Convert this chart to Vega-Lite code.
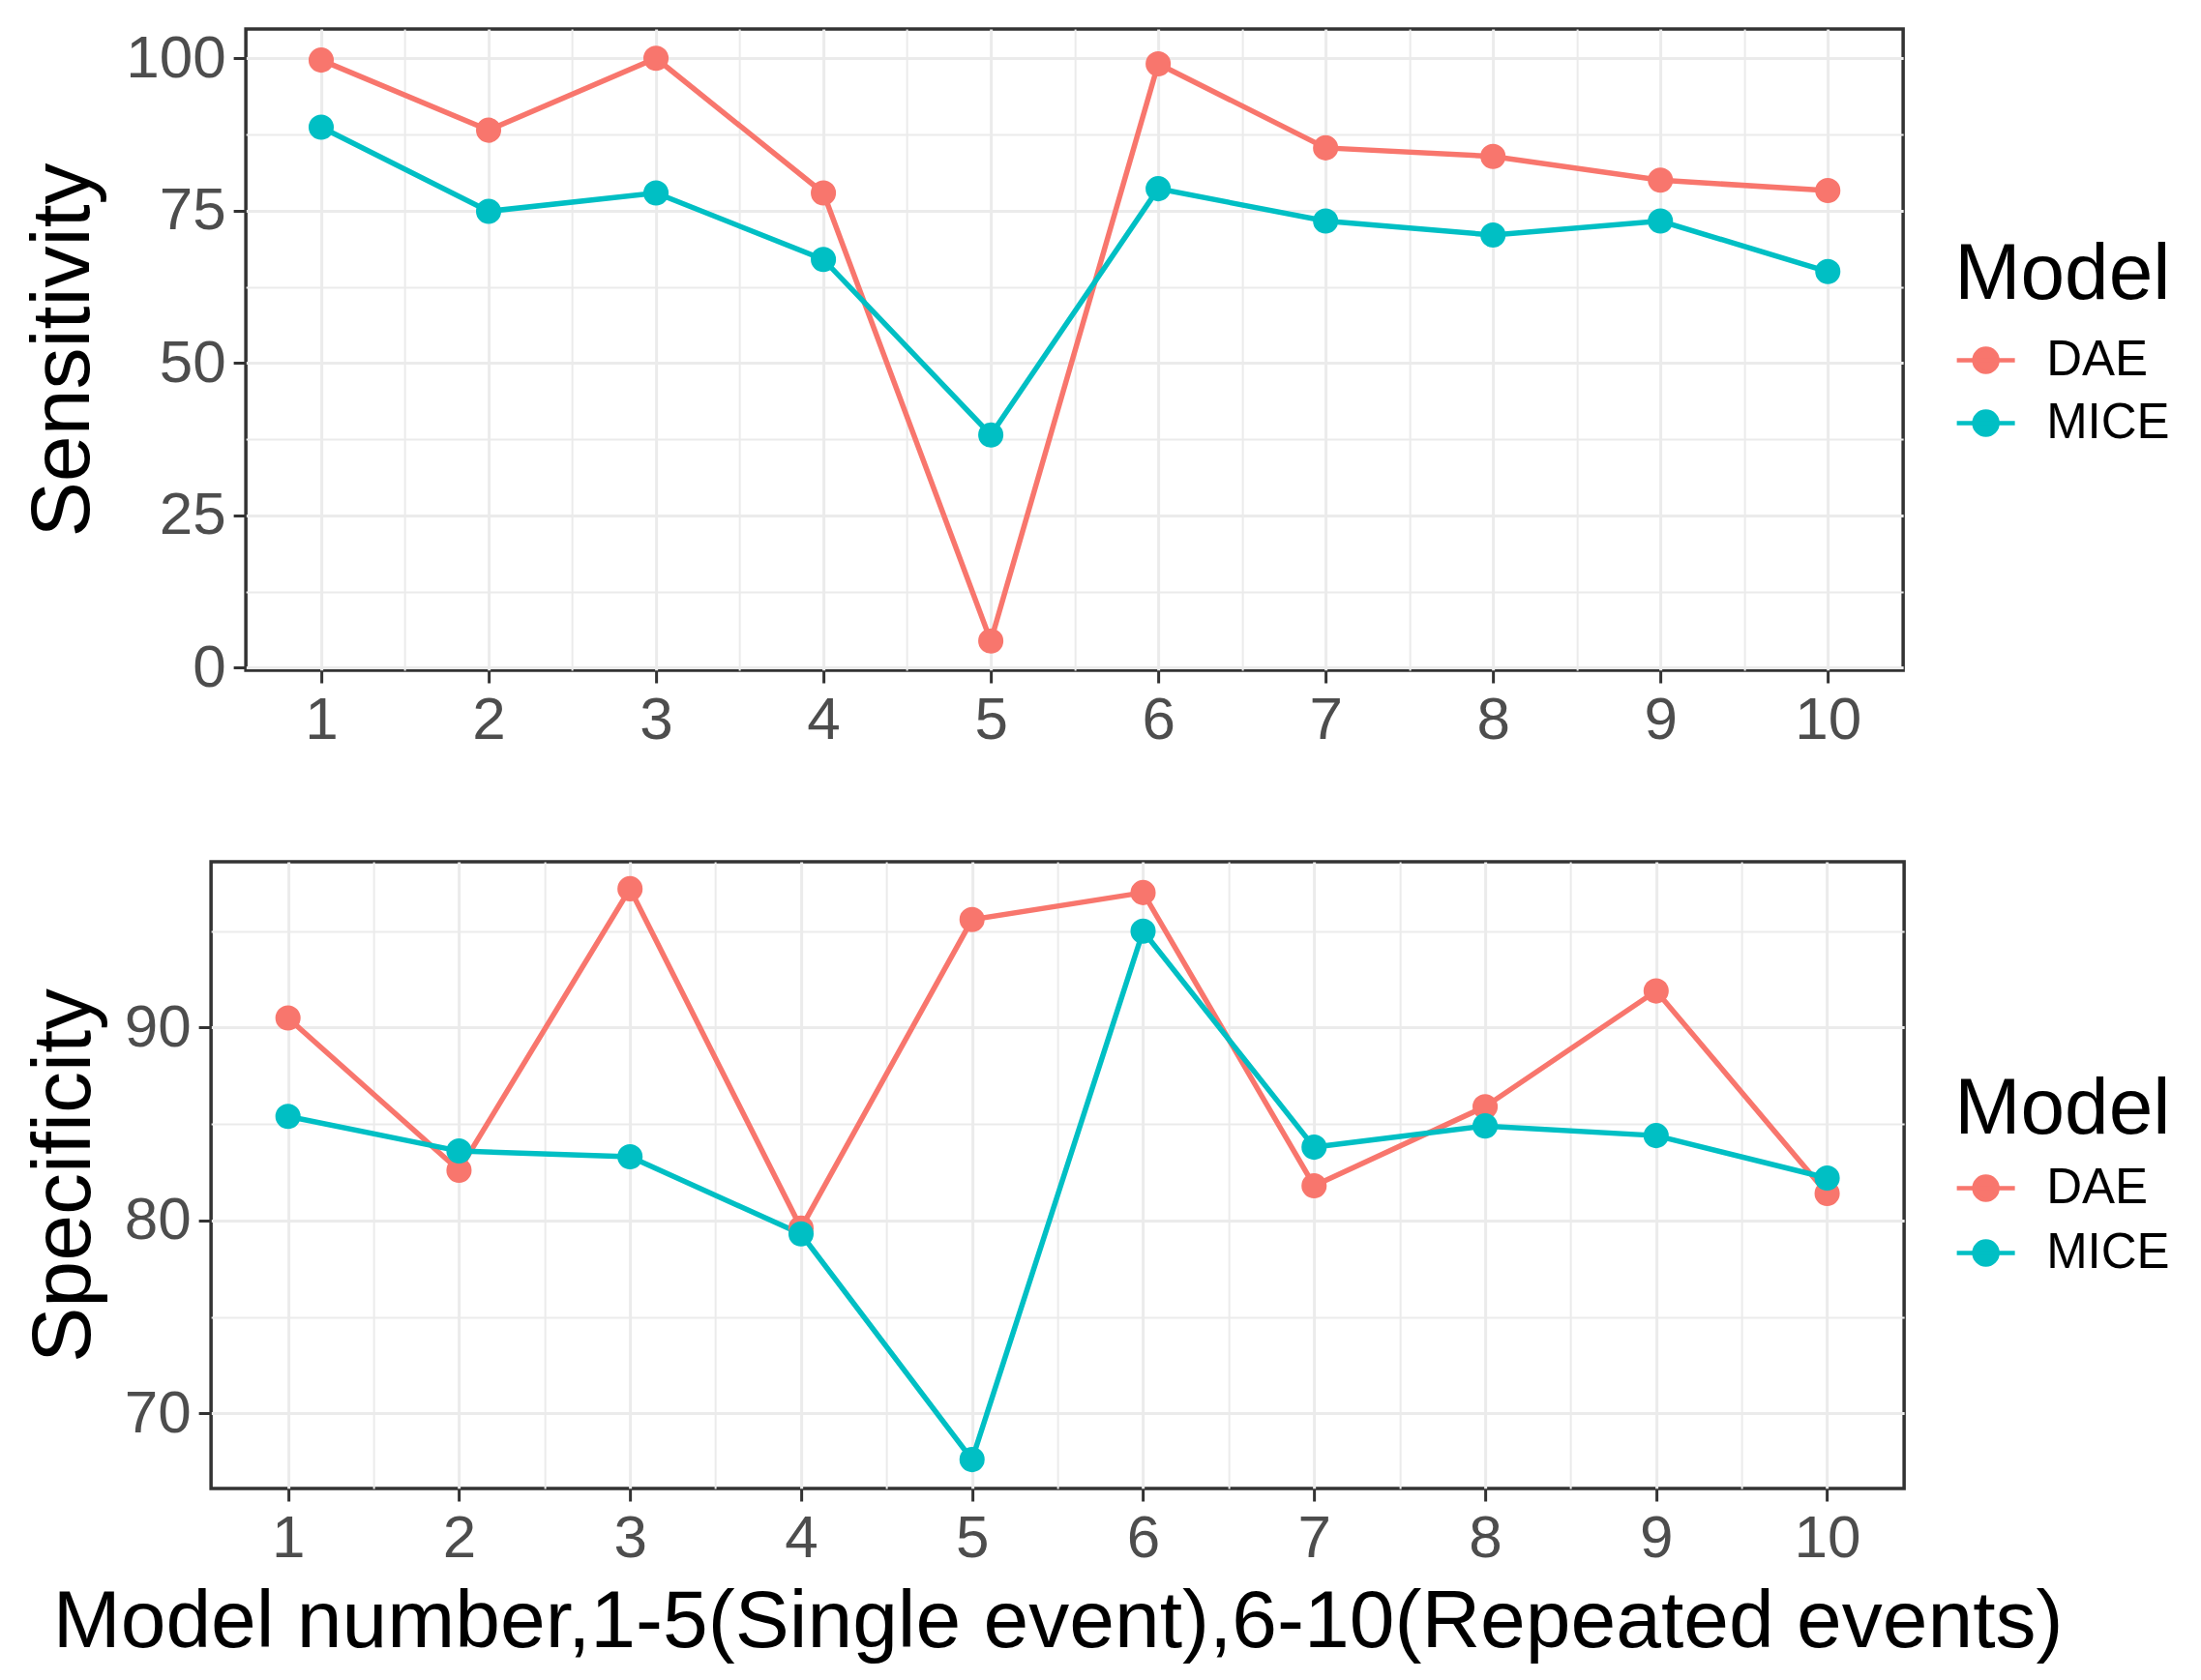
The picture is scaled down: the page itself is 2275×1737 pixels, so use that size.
{
  "$schema": "https://vega.github.io/schema/vega-lite/v6.json",
  "padding": {"left": 20, "top": 27, "right": 0, "bottom": 0},
  "background": "white",
  "datasets": {
    "sens": [
      {"num": 1, "Model": "DAE", "value": 99.7},
      {"num": 2, "Model": "DAE", "value": 88.2},
      {"num": 3, "Model": "DAE", "value": 100},
      {"num": 4, "Model": "DAE", "value": 77.9},
      {"num": 5, "Model": "DAE", "value": 4.4},
      {"num": 6, "Model": "DAE", "value": 99.1},
      {"num": 7, "Model": "DAE", "value": 85.3},
      {"num": 8, "Model": "DAE", "value": 83.9},
      {"num": 9, "Model": "DAE", "value": 80.0},
      {"num": 10, "Model": "DAE", "value": 78.3},
      {"num": 1, "Model": "MICE", "value": 88.7},
      {"num": 2, "Model": "MICE", "value": 74.9},
      {"num": 3, "Model": "MICE", "value": 77.9},
      {"num": 4, "Model": "MICE", "value": 67.0},
      {"num": 5, "Model": "MICE", "value": 38.2},
      {"num": 6, "Model": "MICE", "value": 78.6},
      {"num": 7, "Model": "MICE", "value": 73.3},
      {"num": 8, "Model": "MICE", "value": 71.0},
      {"num": 9, "Model": "MICE", "value": 73.3},
      {"num": 10, "Model": "MICE", "value": 65.0}
    ],
    "spec": [
      {"num": 1, "Model": "DAE", "value": 90.5},
      {"num": 2, "Model": "DAE", "value": 82.6},
      {"num": 3, "Model": "DAE", "value": 97.2},
      {"num": 4, "Model": "DAE", "value": 79.6},
      {"num": 5, "Model": "DAE", "value": 95.6},
      {"num": 6, "Model": "DAE", "value": 97.0},
      {"num": 7, "Model": "DAE", "value": 81.8},
      {"num": 8, "Model": "DAE", "value": 85.9},
      {"num": 9, "Model": "DAE", "value": 91.9},
      {"num": 10, "Model": "DAE", "value": 81.4},
      {"num": 1, "Model": "MICE", "value": 85.4},
      {"num": 2, "Model": "MICE", "value": 83.6},
      {"num": 3, "Model": "MICE", "value": 83.3},
      {"num": 4, "Model": "MICE", "value": 79.3},
      {"num": 5, "Model": "MICE", "value": 67.6},
      {"num": 6, "Model": "MICE", "value": 95.0},
      {"num": 7, "Model": "MICE", "value": 83.8},
      {"num": 8, "Model": "MICE", "value": 84.9},
      {"num": 9, "Model": "MICE", "value": 84.4},
      {"num": 10, "Model": "MICE", "value": 82.2}
    ]
  },
  "spacing": 112,
  "center": true,
  "vconcat": [
    {
      "width": 1713,
      "height": 663,
      "data": {"name": "sens"},
      "encoding": {
        "x": {
          "field": "num",
          "type": "quantitative",
          "scale": {"domain": [0.55, 10.45], "nice": false, "zero": false},
          "axis": {
            "title": null,
            "values": [1, 1.5, 2, 2.5, 3, 3.5, 4, 4.5, 5, 5.5, 6, 6.5, 7, 7.5, 8, 8.5, 9, 9.5, 10],
            "labelExpr": "datum.value % 1 === 0 ? format(datum.value, 'd') : ''",
            "tickSize": {"condition": {"test": "datum.value % 1 !== 0", "value": 0}, "value": 13},
            "gridWidth": {"condition": {"test": "datum.value % 1 !== 0", "value": 2}, "value": 3}
          }
        },
        "y": {
          "field": "value",
          "type": "quantitative",
          "scale": {"domain": [-0.4, 104.8], "nice": false, "zero": false},
          "axis": {
            "title": "Sensitivity",
            "titlePadding": 20,
            "values": [0, 12.5, 25, 37.5, 50, 62.5, 75, 87.5, 100],
            "labelExpr": "datum.value % 25 === 0 ? format(datum.value, 'd') : ''",
            "tickSize": {"condition": {"test": "datum.value % 25 !== 0", "value": 0}, "value": 13},
            "gridWidth": {"condition": {"test": "datum.value % 25 !== 0", "value": 2}, "value": 3}
          }
        },
        "color": {
          "field": "Model",
          "type": "nominal",
          "scale": {"domain": ["DAE", "MICE"], "range": ["#F8766D", "#00BFC4"]},
          "legend": {
            "orient": "none",
            "legendX": 1766,
            "legendY": 214,
            "padding": 0,
            "rowPadding": 7,
            "encode": {
              "symbols": {
                "update": {
                  "fill": {"scale": "color", "field": "value"},
                  "stroke": {"scale": "color", "field": "value"}
                }
              }
            }
          }
        }
      },
      "layer": [
        {"mark": {"type": "line", "strokeWidth": 5.5}},
        {"mark": {"type": "point", "filled": true, "size": 680, "opacity": 1}}
      ]
    },
    {
      "width": 1750,
      "height": 648,
      "data": {"name": "spec"},
      "encoding": {
        "x": {
          "field": "num",
          "type": "quantitative",
          "scale": {"domain": [0.55, 10.45], "nice": false, "zero": false},
          "axis": {
            "title": "Model number,1-5(Single event),6-10(Repeated events)",
            "titleFontSize": 84,
            "titlePadding": 15,
            "values": [1, 1.5, 2, 2.5, 3, 3.5, 4, 4.5, 5, 5.5, 6, 6.5, 7, 7.5, 8, 8.5, 9, 9.5, 10],
            "labelExpr": "datum.value % 1 === 0 ? format(datum.value, 'd') : ''",
            "tickSize": {"condition": {"test": "datum.value % 1 !== 0", "value": 0}, "value": 13},
            "gridWidth": {"condition": {"test": "datum.value % 1 !== 0", "value": 2}, "value": 3}
          }
        },
        "y": {
          "field": "value",
          "type": "quantitative",
          "scale": {"domain": [66.1, 98.6], "nice": false, "zero": false},
          "axis": {
            "title": "Specificity",
            "titlePadding": 18,
            "values": [70, 75, 80, 85, 90, 95],
            "labelExpr": "datum.value % 10 === 0 ? format(datum.value, 'd') : ''",
            "tickSize": {"condition": {"test": "datum.value % 10 !== 0", "value": 0}, "value": 13},
            "gridWidth": {"condition": {"test": "datum.value % 10 !== 0", "value": 2}, "value": 3}
          }
        },
        "color": {
          "field": "Model",
          "type": "nominal",
          "scale": {"domain": ["DAE", "MICE"], "range": ["#F8766D", "#00BFC4"]},
          "legend": {
            "orient": "none",
            "legendX": 1766,
            "legendY": 180,
            "padding": 36,
            "rowPadding": 9,
            "titlePadding": 7,
            "encode": {
              "symbols": {
                "update": {
                  "fill": {"scale": "color", "field": "value"},
                  "stroke": {"scale": "color", "field": "value"}
                }
              }
            }
          }
        }
      },
      "layer": [
        {"mark": {"type": "line", "strokeWidth": 5.5}},
        {"mark": {"type": "point", "filled": true, "size": 680, "opacity": 1}}
      ]
    }
  ],
  "resolve": {"legend": {"color": "independent"}},
  "config": {
    "view": {"stroke": "#333333", "strokeWidth": 3.5},
    "axis": {
      "domain": false,
      "grid": true,
      "gridColor": "#EBEBEB",
      "tickColor": "#333333",
      "tickWidth": 3,
      "labelFont": "Liberation Sans",
      "labelFontSize": 62,
      "labelColor": "#4D4D4D",
      "labelPadding": 8,
      "labelOverlap": false,
      "labelFlush": false,
      "titleFont": "Liberation Sans",
      "titleFontSize": 86,
      "titleFontWeight": "normal",
      "titleColor": "#000000"
    },
    "legend": {
      "titleFont": "Liberation Sans",
      "titleFontSize": 82,
      "titleFontWeight": "normal",
      "titleColor": "#000000",
      "titlePadding": 14,
      "titleLimit": 1000,
      "labelLimit": 1000,
      "labelFont": "Liberation Sans",
      "labelFontSize": 51,
      "labelColor": "#000000",
      "labelOffset": 30,
      "symbolType": "M-1,0H1M-0.4,0A0.4,0.4,0,1,0,0.4,0A0.4,0.4,0,1,0,-0.4,0Z",
      "symbolSize": 3600,
      "symbolStrokeWidth": 4.5
    }
  }
}
